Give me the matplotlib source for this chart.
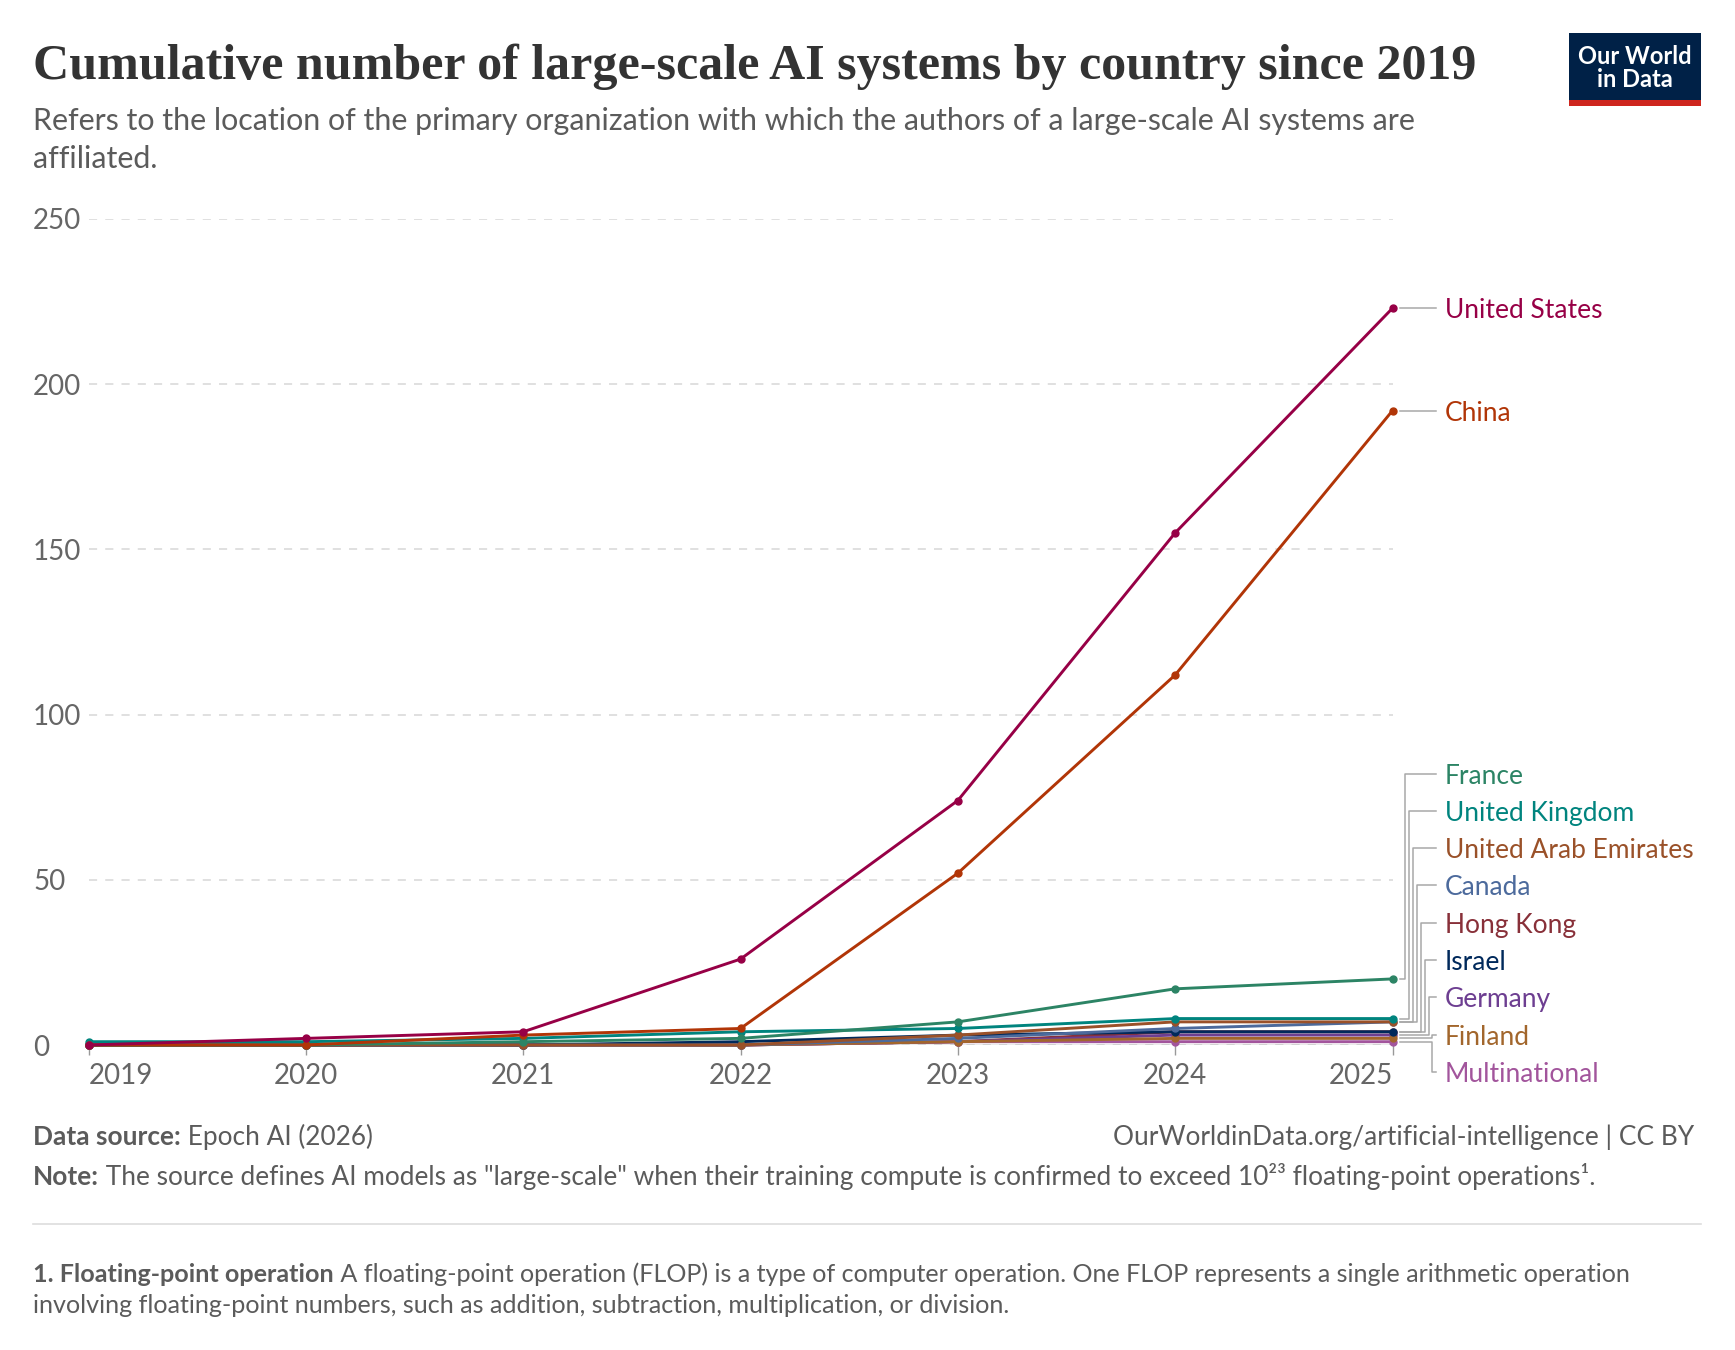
import matplotlib
matplotlib.use("Agg")
import matplotlib.pyplot as plt
from matplotlib.patches import Rectangle
from matplotlib.lines import Line2D

W, H = 1735, 1350
years = [2019, 2020, 2021, 2022, 2023, 2024, 2025]
us = [0, 2, 4, 26, 74, 155, 223]
china = [0, 0, 3, 5, 52, 112, 192]
france = [0, 0, 1, 2, 7, 17, 20]
uk = [1, 1, 2, 4, 5, 8, 8]
uae = [0, 0, 0, 0, 3, 7, 7]
canada = [0, 0, 0, 0, 2, 5, 7]
hong_kong = [0, 0, 0, 0, 1, 4, 4]
israel = [0, 0, 0, 1, 3, 4, 4]
germany = [0, 0, 0, 0, 1, 3, 3]
finland = [0, 0, 0, 0, 1, 2, 2]
multinational = [0, 0, 0, 0, 1, 1, 1]

names = ["United States", "China", "France", "United Kingdom", "United Arab Emirates",
         "Canada", "Hong Kong", "Israel", "Germany", "Finland", "Multinational"]
series = [us, china, france, uk, uae, canada, hong_kong, israel, germany, finland, multinational]
colors = ["#970046", "#B13507", "#2C8465", "#00847E", "#9A5129",
          "#4C6A9C", "#883039", "#00295B", "#6D3E91", "#A2662C", "#A2559C"]
draw_order = ["Hong Kong", "Germany", "Multinational", "Finland", "Israel", "Canada",
              "United Arab Emirates", "United Kingdom", "France", "China", "United States"]
yticks = [0, 50, 100, 150, 200, 250]

plt.rcParams['font.family'] = ['Lato', 'DejaVu Sans']

fig = plt.figure(figsize=(W / 100, H / 100), dpi=100)

def fx(x):
    return x / W

def fy(y):
    return 1 - y / H

# axes placement (pixels)
ax_l, ax_r, ax_t, ax_b = 88.5, 1392.5, 219, 1045
ax_w = ax_r - ax_l
ax = fig.add_axes([fx(ax_l), fy(ax_b), ax_w / W, (ax_b - ax_t) / H])
ax.set_xlim(2019, 2025)
ax.set_ylim(0, 250)
for s in ax.spines.values():
    s.set_visible(False)
ax.set_yticks(yticks)
ax.set_yticklabels([str(v) for v in yticks])
ax.tick_params(axis='y', length=0, labelsize=20, labelcolor="#666666", pad=0)
for lab in ax.get_yticklabels():
    lab.set_horizontalalignment('left')
    lab.set_x(-(ax_l - 33) / ax_w)
ax.yaxis.grid(True, color="#dddddd", linestyle=(0, (4.5, 4.5)), linewidth=1.3)
ax.set_axisbelow(True)
ax.set_xticks(years)
ax.set_xticklabels([str(y) for y in years])
ax.tick_params(axis='x', length=7, color="#999999", width=1, labelsize=20,
               labelcolor="#666666", pad=6)
xl = ax.get_xticklabels()
xl[0].set_horizontalalignment('left')
xl[-1].set_horizontalalignment('right')
ax.axhline(0, color="#999999", linewidth=1, zorder=1)

lookup = {n: (v, c) for n, v, c in zip(names, series, colors)}
for z, name in enumerate(draw_order):
    vals, c = lookup[name]
    ax.plot(years, vals, color=c, linewidth=2.1, marker='o', markersize=5,
            clip_on=False, zorder=3 + z * 0.01, solid_capstyle='round')

# right labels with connectors
fig.canvas.draw()
def data_to_px_y(v):
    disp = ax.transData.transform((2025, v))
    return H - disp[1]

conn_color = "#a8a8a8"
start_x = 1400
end_x = 1436
text_x = 1445
label_font = 19
text_dy = 2.5
for i in range(2):
    py = data_to_px_y(series[i][-1])
    fig.add_artist(Line2D([fx(start_x), fx(end_x)], [fy(py), fy(py)], color=conn_color, lw=1.1))
    fig.text(fx(text_x), fy(py + text_dy), names[i], color=colors[i], fontsize=label_font, va='center', ha='left')
group_top = 773.5
step = 37.3
elbow_x = [1405, 1409, 1413, 1417, 1421, 1425, 1429, 1432, 1432]
for k, i in enumerate(range(2, len(names))):
    py = data_to_px_y(series[i][-1])
    ly = group_top + k * step
    ex = elbow_x[k]
    fig.add_artist(Line2D([fx(start_x), fx(ex), fx(ex), fx(end_x)],
                          [fy(py), fy(py), fy(ly), fy(ly)], color=conn_color, lw=1.1))
    fig.text(fx(text_x), fy(ly + text_dy), names[i], color=colors[i], fontsize=label_font, va='center', ha='left')

# Title and subtitle
fig.text(fx(33), fy(79), "Cumulative number of large-scale AI systems by country since 2019",
         fontsize=36, fontweight='bold', family=['Liberation Serif', 'DejaVu Serif'],
         color="#333333", va='baseline', ha='left')
sub_size = 21.9
fig.text(fx(33), fy(130), "Refers to the location of the primary organization with which the authors of a large-scale AI systems are",
         fontsize=sub_size, color="#5b5b5b", va='baseline', ha='left')
fig.text(fx(33), fy(168), "affiliated.", fontsize=sub_size, color="#5b5b5b", va='baseline', ha='left')

# Logo
fig.add_artist(Rectangle((fx(1569), fy(100)), 132 / W, 67 / H, transform=fig.transFigure,
                         facecolor="#002147", edgecolor='none'))
fig.add_artist(Rectangle((fx(1569), fy(106)), 132 / W, 6 / H, transform=fig.transFigure,
                         facecolor="#ce261e", edgecolor='none'))
fig.text(fx(1635), fy(68), "Our World\nin Data", color="white", fontsize=17, fontweight='bold',
         ha='center', va='center', linespacing=1.0)

renderer = fig.canvas.get_renderer()

def rich(x, y, parts, size=18.9, color="#5b5b5b"):
    cx = x
    for txt, bold in parts:
        t = fig.text(fx(cx), fy(y), txt, fontsize=size, color=color,
                     fontweight='bold' if bold else 'normal', va='baseline', ha='left')
        bb = t.get_window_extent(renderer=renderer)
        cx += bb.width

foot_size = 18.9
rich(33, 1145, [("Data source:", True), (" Epoch AI (2026)", False)], size=foot_size)
fig.text(fx(1694), fy(1145), "OurWorldinData.org/artificial-intelligence | CC BY", fontsize=foot_size,
         color="#5b5b5b", va='baseline', ha='right')
rich(33, 1185, [("Note:", True), (" The source defines AI models as \"large-scale\" when their training compute is confirmed to exceed 10²³ floating-point operations¹.", False)], size=foot_size)
fig.add_artist(Line2D([fx(33), fx(1701)], [fy(1224), fy(1224)], color="#dddddd", lw=1.2))
rich(33, 1282, [("1. Floating-point operation", True), (" A floating-point operation (FLOP) is a type of computer operation. One FLOP represents a single arithmetic operation", False)], size=18.1)
rich(33, 1313, [("involving floating-point numbers, such as addition, subtraction, multiplication, or division.", False)], size=18.1)

fig.savefig("out.png", dpi=100, facecolor="white")
